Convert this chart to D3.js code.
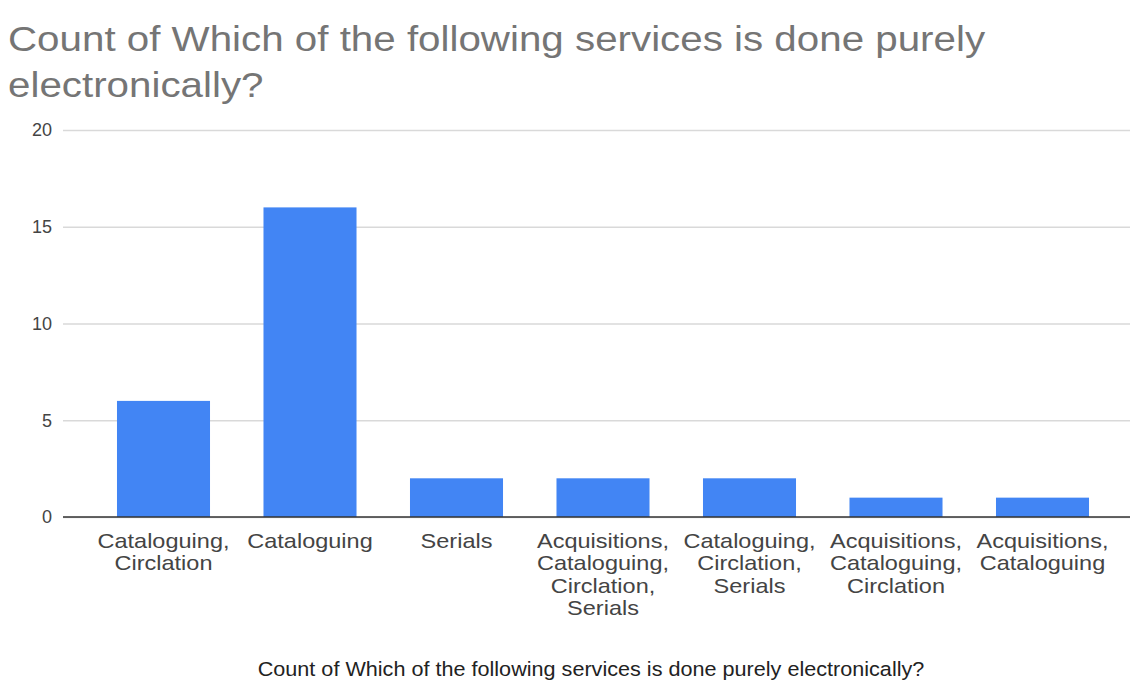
<!DOCTYPE html>
<html>
<head>
<meta charset="utf-8">
<script src="https://cdn.jsdelivr.net/npm/d3@7"></script>
<style>
  body { margin: 0; background: #fff; }
  text { font-family: Arial, "Liberation Sans", sans-serif; }
</style>
</head>
<body>
<script>
// chart data
var categories = [
  "Cataloguing, Circlation",
  "Cataloguing",
  "Serials",
  "Acquisitions, Cataloguing, Circlation, Serials",
  "Cataloguing, Circlation, Serials",
  "Acquisitions, Cataloguing, Circlation",
  "Acquisitions, Cataloguing"
];
var counts = [6, 16, 2, 2, 2, 1, 1];
var yTicks = [0, 5, 10, 15, 20];
var titleLines = ["Count of Which of the following services is done purely", "electronically?"];
var axisTitle = "Count of Which of the following services is done purely electronically?";

var W = 1135, H = 684;
// the picture is a bit wider than tall, text gets stretched the same way
var sx = 1.12;

var svg = d3.select('body').append('svg')
    .attr('width', W)
    .attr('height', H);

// scales
var xScale = d3.scaleBand()
    .domain(d3.range(categories.length))
    .range([90.25, 1115.75])
    .paddingInner(0.365)
    .paddingOuter(0.1825);

var yScale = d3.scaleLinear()
    .domain([0, 20])
    .range([517, 130]);

// title
svg.append('g').selectAll('text')
  .data(titleLines)
  .enter()
  .append('text')
  .attr('transform', function (d, i) {
    return 'translate(8,' + (51 + i * 46) + ') scale(' + sx + ',1)';
  })
  .attr('font-size', '36px')
  .attr('fill', '#757575')
  .text(function (d) { return d; });

// gridlines + y labels
var yAxis = d3.axisLeft(yScale)
    .tickValues(yTicks)
    .tickSize(-(1130 - 63))
    .tickPadding(11);

var gy = svg.append('g')
  .attr('transform', 'translate(63,0)')
  .call(yAxis);
gy.select('.domain').remove();
gy.selectAll('.tick line')
  .attr('stroke', '#d9d9d9')
  .attr('stroke-width', 1.3);
gy.selectAll('.tick text')
  .attr('font-size', '18px')
  .attr('fill', '#444')
  .attr('font-family', 'Arial, "Liberation Sans", sans-serif');

// bars
svg.selectAll('rect.bar')
  .data(counts)
  .enter()
  .append('rect')
  .attr('class', 'bar')
  .attr('x', function (d, i) { return xScale(i); })
  .attr('y', function (d) { return yScale(d); })
  .attr('width', xScale.bandwidth())
  .attr('height', function (d) { return yScale(0) - yScale(d); })
  .attr('fill', '#4285f4');

// baseline
svg.append('line')
  .attr('x1', 63)
  .attr('x2', 1130)
  .attr('y1', yScale(0))
  .attr('y2', yScale(0))
  .attr('stroke', '#333')
  .attr('stroke-width', 1.3);

// x labels, wrapped on commas
var labels = svg.append('g').selectAll('text')
  .data(categories)
  .enter()
  .append('text')
  .attr('text-anchor', 'middle')
  .attr('font-size', '21px')
  .attr('fill', '#444')
  .attr('transform', function (d, i) {
    return 'translate(' + (xScale(i) + xScale.bandwidth() / 2) + ',548) scale(' + sx + ',1)';
  });

labels.each(function (d) {
  var parts = d.split(', ');
  var t = d3.select(this);
  parts.forEach(function (p, j) {
    t.append('tspan')
      .attr('x', 0)
      .attr('y', j * 22.5)
      .text(j < parts.length - 1 ? p + ',' : p);
  });
});

// axis title
svg.append('text')
  .attr('transform', 'translate(591,676) scale(' + sx + ',1)')
  .attr('text-anchor', 'middle')
  .attr('font-size', '19.3px')
  .attr('fill', '#222')
  .text(axisTitle);
</script>
</body>
</html>
